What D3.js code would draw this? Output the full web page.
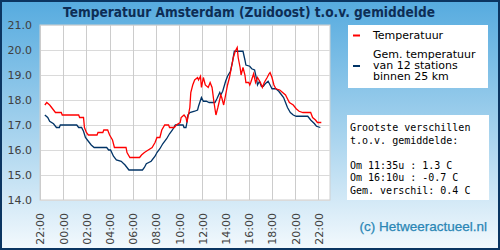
<!DOCTYPE html>
<html>
<head>
<meta charset="utf-8">
<script src="https://cdn.jsdelivr.net/npm/d3@7"></script>
<style>
  body { margin: 0; padding: 0; }
  #chart svg { display: block; }
</style>
</head>
<body>
<div id="chart"></div>
<script>
// measured temperatures (time of day, deg C), the day runs 22:00 -> 23:00 next day
var tempTimes = ["22:25","22:35","22:50","23:00","23:10","23:20","23:50","23:55","01:20","01:25","01:45","01:50","02:00","02:10","02:55","03:00","03:25","03:30","03:50","04:00","04:15","04:25","05:25","05:30","05:45","06:35","06:45","07:00","07:20","07:40","07:55","08:05","08:20","08:30","08:45","09:05","09:10","09:35","09:45","10:05","10:10","10:25","10:35","10:40","10:55","11:00","11:10","11:20","11:35","11:40","11:50","11:55","12:05","12:15","12:30","12:40","12:50","13:00","13:10","13:20","13:35","13:40","13:50","14:00","14:10","14:20","14:30","14:40","14:50","15:00","15:05","15:15","15:20","15:30","15:40","15:45","16:00","16:05","16:10","16:25","16:35","16:45","17:00","17:10","17:20","17:35","17:45","17:50","18:00","18:10","18:20","18:40","18:55","19:10","19:20","19:30","19:50","20:05","20:20","20:40","21:20","21:30","21:45","21:55","22:15"];
var tempValues = [17.8,17.9,17.8,17.7,17.6,17.5,17.5,17.4,17.4,17.3,17.3,16.9,16.7,16.6,16.6,16.7,16.7,16.8,16.8,16.6,16.4,16.1,16.1,15.9,15.7,15.7,15.8,15.9,16.0,16.1,16.3,16.5,16.5,16.8,17.0,17.0,16.9,16.9,17.0,17.1,17.3,17.4,17.3,17.1,17.7,18.3,18.6,18.8,18.9,18.8,18.95,18.5,18.9,18.6,18.5,18.7,18.5,17.9,17.4,17.7,18.2,18.1,17.8,18.2,18.6,18.9,19.3,19.7,19.95,20.1,19.7,19.3,19.0,19.3,19.0,18.7,18.7,18.6,18.7,19.05,18.7,18.9,18.7,18.5,18.7,18.9,19.05,19.1,18.9,18.6,18.45,18.4,18.3,18.2,18.05,17.9,17.8,17.65,17.55,17.5,17.5,17.3,17.2,17.1,17.1];

// average of 12 stations within 25 km
var avgTimes = ["22:25","22:40","22:50","23:10","23:25","23:40","23:45","01:10","01:20","01:35","01:45","01:55","02:10","02:25","02:40","03:45","03:55","04:05","04:20","04:35","05:00","05:20","05:40","06:50","07:00","07:10","07:35","07:55","08:05","08:20","08:35","08:55","09:10","09:25","09:40","10:20","10:25","10:35","10:40","10:45","10:55","11:20","11:35","11:40","11:55","12:05","12:20","12:35","13:05","13:15","13:30","13:35","13:45","14:00","14:10","14:25","14:35","14:45","15:30","15:40","15:45","16:05","16:15","16:30","16:40","16:45","16:55","17:05","17:15","17:25","17:40","17:50","18:00","18:20","18:35","18:45","19:00","19:10","19:20","19:35","19:50","20:05","21:05","21:20","21:40","21:50","22:10"];
var avgValues = [17.4,17.3,17.15,17.05,16.9,16.9,17.0,17.0,16.9,16.9,16.75,16.5,16.35,16.2,16.1,16.1,16.0,16.0,15.75,15.6,15.55,15.4,15.2,15.2,15.3,15.45,15.55,15.75,15.9,16.05,16.25,16.45,16.65,16.8,17.0,17.0,16.9,16.9,17.1,17.4,17.5,17.55,17.6,17.75,18.1,17.95,17.95,17.9,17.9,18.05,18.3,18.2,18.35,18.75,18.95,19.15,19.5,19.95,19.95,19.6,19.4,19.35,19.25,19.2,18.85,18.6,18.75,18.55,18.55,18.65,18.75,18.6,18.45,18.45,18.35,18.25,18.1,17.9,17.7,17.5,17.4,17.35,17.35,17.2,17.05,16.95,16.9];

var tickLabels = ["22:00","00:00","02:00","04:00","06:00","08:00","10:00","12:00","14:00","16:00","18:00","20:00","22:00"];
var yTicks = [14, 15, 16, 17, 18, 19, 20, 21];

var legendLabels = ["Temperatuur", ["Gem. temperatuur", "van 12 stations", "binnen 25 km"]];
var statLines = ["Grootste verschillen", "t.o.v. gemiddelde:", "", "Om 11:35u : 1.3 C", "Om 16:10u : -0.7 C", "Gem. verschil: 0.4 C"];

var title = "Temperatuur Amsterdam (Zuidoost) t.o.v. gemiddelde";
var credit = "(c) Hetweeractueel.nl";

function init() {
    var w = 500;
    var h = 250;
    var plot = { left: 40, top: 25, right: 330, bottom: 200 };
    var red = "#ff0000";
    var navy = "#003366";

    // turn "HH:MM" strings into hours since 22:00, rolling over midnight
    function toHours(list) {
        var out = [];
        var day = 0;
        var prev = -1;
        list.forEach(function (t) {
            var p = t.split(":");
            var v = +p[0] + p[1] / 60;
            if (v < prev) day += 24;
            prev = v;
            out.push(v + day - 22);
        });
        return out;
    }

    var tempData = toHours(tempTimes).map(function (x, i) { return { h: x, v: tempValues[i] }; });
    var avgData = toHours(avgTimes).map(function (x, i) { return { h: x, v: avgValues[i] }; });
    var tickHours = toHours(tickLabels);

    var svg = d3.select("#chart")
        .append("svg")
        .attr("width", w)
        .attr("height", h);

    var defs = svg.append("defs");
    var grad = defs.append("linearGradient")
        .attr("id", "bg")
        .attr("x1", 0).attr("y1", 0)
        .attr("x2", 0).attr("y2", 1);
    grad.append("stop").attr("offset", "0%").attr("stop-color", "#56abdf");
    grad.append("stop").attr("offset", "55%").attr("stop-color", "#a9d4ee");
    grad.append("stop").attr("offset", "100%").attr("stop-color", "#f3f9fd");

    svg.append("rect")
        .attr("x", 1).attr("y", 1)
        .attr("width", w - 2).attr("height", h - 2)
        .attr("fill", "url(#bg)")
        .attr("stroke", "#0b3561")
        .attr("stroke-width", 2);

    // the original title font is narrower, so squeeze it to the same width
    svg.append("text")
        .attr("x", 249)
        .attr("y", 17)
        .attr("text-anchor", "middle")
        .attr("font-family", "DejaVu Sans")
        .attr("font-weight", "bold")
        .attr("font-size", "14px")
        .attr("fill", "#0d2d55")
        .attr("textLength", 372)
        .attr("lengthAdjust", "spacingAndGlyphs")
        .text(title);

    var xScale = d3.scaleLinear()
        .domain([0, 25])
        .range([plot.left, plot.right]);
    var yScale = d3.scaleLinear()
        .domain([14, 21])
        .range([plot.bottom, plot.top]);

    svg.append("rect")
        .attr("x", plot.left)
        .attr("y", plot.top)
        .attr("width", plot.right - plot.left)
        .attr("height", plot.bottom - plot.top)
        .attr("fill", "#ffffff")
        .attr("stroke", "#cfcfcf");

    // grid
    svg.append("g")
        .selectAll("line")
        .data(yTicks)
        .enter()
        .append("line")
        .attr("x1", plot.left)
        .attr("x2", plot.right)
        .attr("y1", function (d) { return yScale(d) + 0.5; })
        .attr("y2", function (d) { return yScale(d) + 0.5; })
        .attr("stroke", "#dadada");

    svg.append("g")
        .selectAll("line")
        .data(tickHours)
        .enter()
        .append("line")
        .attr("x1", function (d) { return Math.round(xScale(d)) + 0.5; })
        .attr("x2", function (d) { return Math.round(xScale(d)) + 0.5; })
        .attr("y1", plot.top)
        .attr("y2", plot.bottom)
        .attr("stroke", "#cccccc");

    // axes labels
    var yAxis = d3.axisLeft(yScale)
        .tickValues(yTicks)
        .tickFormat(d3.format(".1f"))
        .tickSize(0)
        .tickPadding(8);
    var gy = svg.append("g")
        .attr("transform", "translate(" + plot.left + ",0)")
        .call(yAxis);
    gy.select(".domain").remove();
    gy.selectAll("text")
        .attr("font-family", "DejaVu Sans")
        .attr("font-size", "11px")
        .attr("fill", "#404040");

    var xAxis = d3.axisBottom(xScale)
        .tickValues(tickHours)
        .tickFormat(function (d, i) { return tickLabels[i]; })
        .tickSize(0);
    var gx = svg.append("g")
        .attr("transform", "translate(0," + plot.bottom + ")")
        .call(xAxis);
    gx.select(".domain").remove();
    gx.selectAll("text")
        .attr("font-family", "DejaVu Sans")
        .attr("font-size", "11px")
        .attr("fill", "#404040")
        .attr("transform", "rotate(-90)")
        .attr("x", -13)
        .attr("y", 0)
        .attr("dy", "0.35em")
        .attr("text-anchor", "end");

    // series
    var line = d3.line()
        .x(function (d) { return xScale(d.h); })
        .y(function (d) { return yScale(d.v); });

    svg.append("path")
        .datum(avgData)
        .attr("d", line)
        .attr("fill", "none")
        .attr("stroke", navy)
        .attr("stroke-width", 1.3);

    svg.append("path")
        .datum(tempData)
        .attr("d", line)
        .attr("fill", "none")
        .attr("stroke", red)
        .attr("stroke-width", 1.3);

    // legend
    svg.append("rect")
        .attr("x", 348).attr("y", 25)
        .attr("width", 140).attr("height", 63)
        .attr("fill", "#ffffff");

    svg.append("line")
        .attr("x1", 353).attr("x2", 360)
        .attr("y1", 35.5).attr("y2", 35.5)
        .attr("stroke", red).attr("stroke-width", 2);
    svg.append("text")
        .attr("x", 373).attr("y", 39)
        .attr("font-family", "DejaVu Sans")
        .attr("font-size", "11px")
        .attr("fill", "#000")
        .text(legendLabels[0]);

    svg.append("line")
        .attr("x1", 353).attr("x2", 360)
        .attr("y1", 66).attr("y2", 66)
        .attr("stroke", navy).attr("stroke-width", 2);
    svg.append("g")
        .selectAll("text")
        .data(legendLabels[1])
        .enter()
        .append("text")
        .attr("x", 373)
        .attr("y", function (d, i) { return 58 + i * 11; })
        .attr("font-family", "DejaVu Sans")
        .attr("font-size", "11px")
        .attr("fill", "#000")
        .text(function (d) { return d; });

    // stats box
    svg.append("rect")
        .attr("x", 347).attr("y", 115)
        .attr("width", 142).attr("height", 85)
        .attr("fill", "#ffffff");

    svg.append("g")
        .selectAll("text")
        .data(statLines)
        .enter()
        .append("text")
        .attr("x", 350)
        .attr("y", function (d, i) { return 131 + i * 12.6; })
        .attr("font-family", "DejaVu Sans Mono")
        .attr("font-size", "10px")
        .attr("fill", "#000")
        .text(function (d) { return d; });

    svg.append("text")
        .attr("x", 487)
        .attr("y", 231)
        .attr("text-anchor", "end")
        .attr("font-family", "Liberation Sans")
        .attr("font-size", "13.5px")
        .attr("fill", "#2a86b5")
        .attr("stroke", "#2a86b5")
        .attr("stroke-width", 0.25)
        .text(credit);
}

window.onload = init;
</script>
</body>
</html>
